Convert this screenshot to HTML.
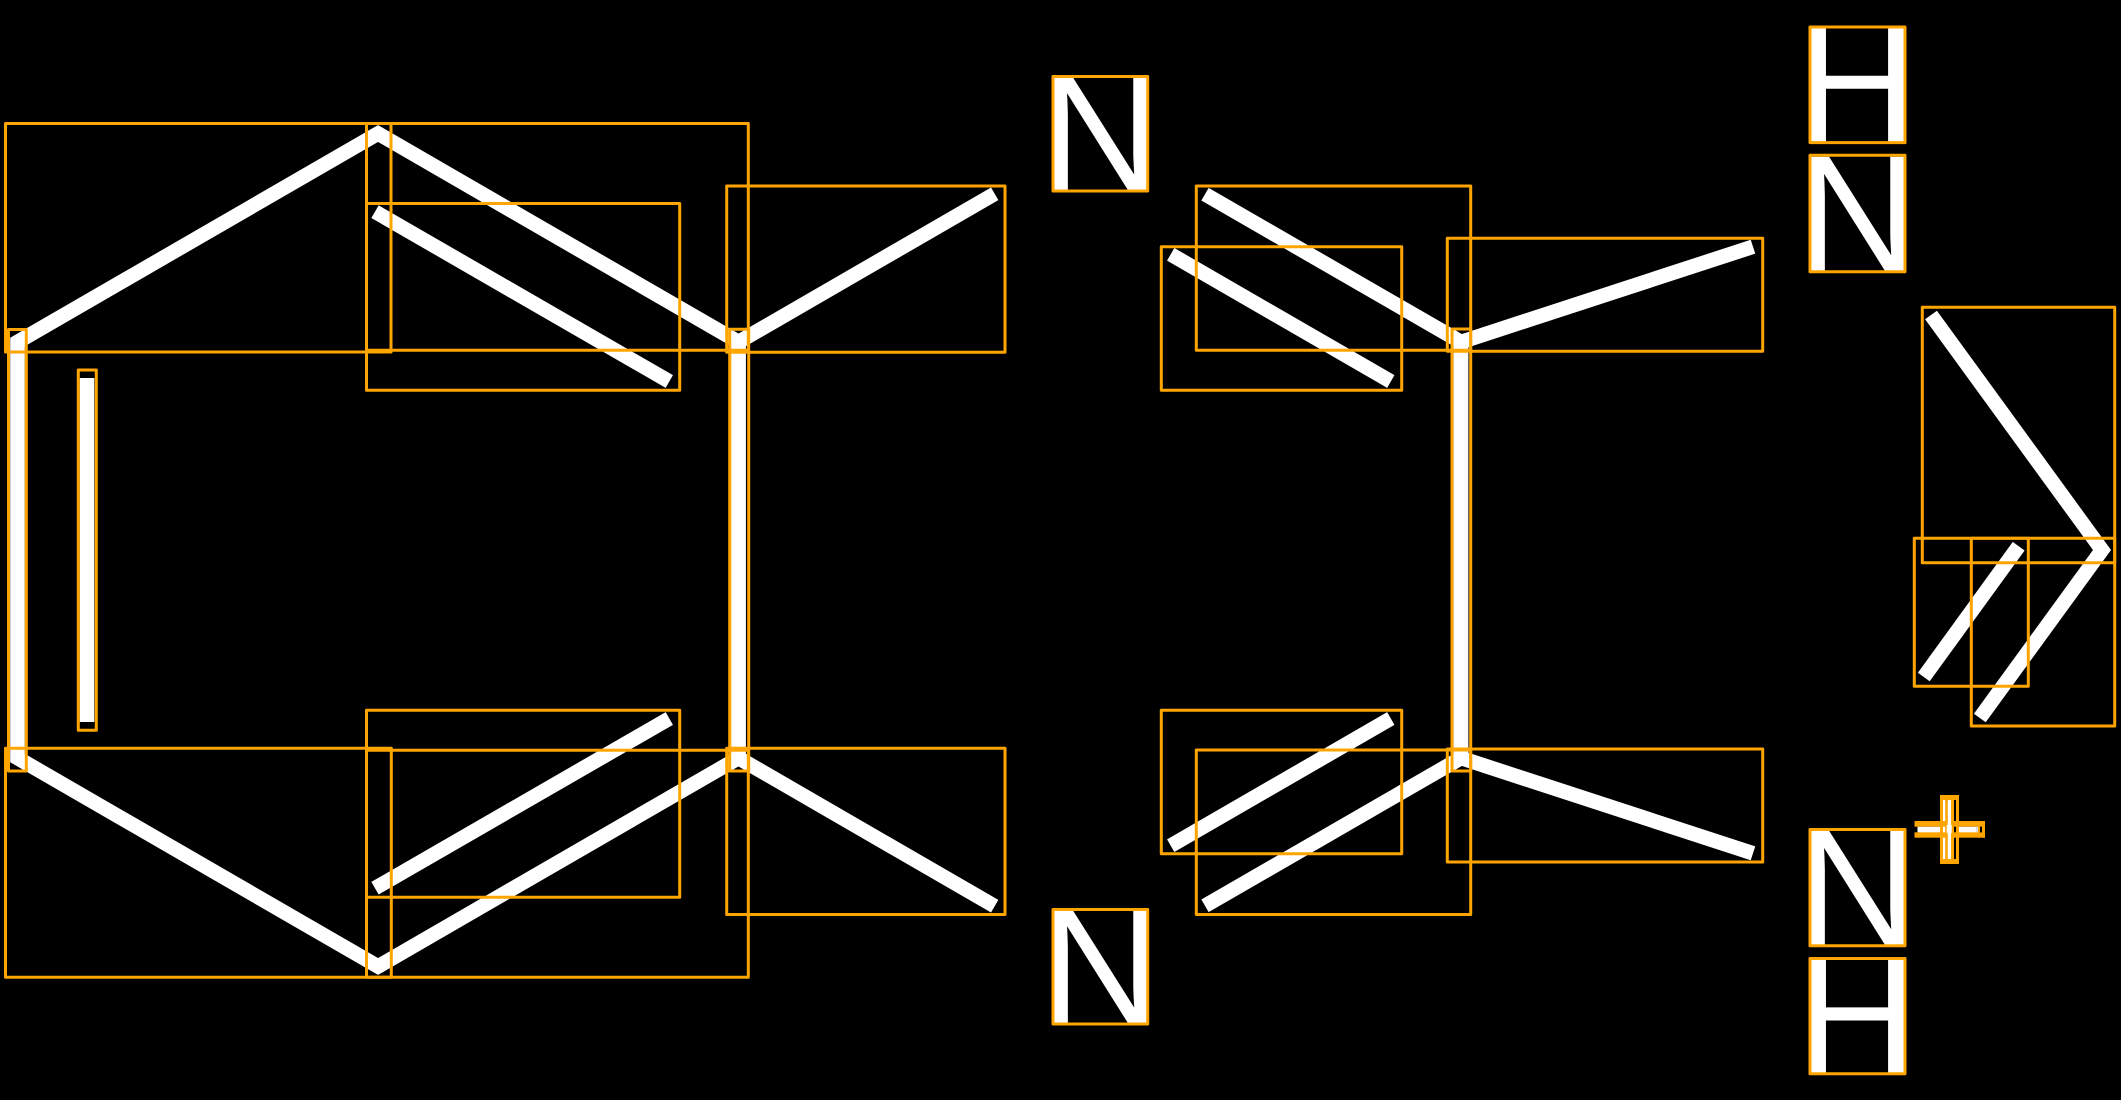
<!DOCTYPE html>
<html>
<head>
<meta charset="utf-8">
<style>
html,body{margin:0;padding:0;background:#000;width:2121px;height:1100px;overflow:hidden}
svg{display:block}
text{font-family:"Liberation Sans",sans-serif;fill:#fff}
</style>
</head>
<body>
<svg width="2121" height="1100" viewBox="0 0 2121 1100" xmlns="http://www.w3.org/2000/svg">
<rect width="2121" height="1100" fill="#000"/>
<g fill="none" stroke="#fff" stroke-width="14.6" stroke-linejoin="miter" stroke-miterlimit="10">
<polygon points="17.5,342 378,133.5 738.5,342 738.5,758 378,966.5 17.5,758"/>
<polyline points="994.7,193.8 738.5,342 738.5,758 994.7,906.2"/>
<line x1="375" y1="211.7" x2="669.3" y2="381.5"/>
<line x1="375" y1="888.2" x2="669.3" y2="718.5"/>
<line x1="87" y1="378" x2="87" y2="722"/>
<polyline points="1205,194.2 1461,342 1461,758 1205,905.8"/>
<polyline points="1753,246.7 1461,342 1461,758 1753,853.3"/>
<line x1="1170.7" y1="254.3" x2="1390.8" y2="381.5"/>
<line x1="1170.7" y1="845.7" x2="1390.8" y2="718.5"/>
<polyline points="1931,315 2102,550 1979.8,718"/>
<line x1="2018.7" y1="546.2" x2="1923.8" y2="677"/>
</g>
<g font-size="167">
<text x="1040.3" y="191">N</text>
<text x="1040.3" y="1024">N</text>
<text x="1796.7" y="142">H</text>
<text x="1797.3" y="271.7">N</text>
<text x="1797.3" y="945.7">N</text>
<text x="1796.7" y="1073.7">H</text>
</g>
<text x="1913.4" y="872" font-size="122">+</text>
<g fill="#fff">
<rect x="1917.5" y="826.7" width="58.5" height="5.6"/>
<rect x="1943" y="800" width="2.4" height="59"/>
<rect x="1947.7" y="800" width="3.5" height="59"/>
<rect x="1946.7" y="825" width="5" height="8"/>
</g>
<rect x="1953.8" y="800" width="2.4" height="59" fill="#000"/>
<g fill="none" stroke="#FFA500" stroke-width="3" stroke-linejoin="round">
<rect x="5.5" y="123.5" width="385.5" height="228.5"/>
<rect x="366.5" y="123.5" width="381.8" height="226.8"/>
<rect x="366.5" y="203.5" width="313.2" height="186.8"/>
<rect x="8.5" y="329.5" width="17.8" height="441.5"/>
<rect x="78.3" y="370" width="18" height="360.3"/>
<rect x="729.7" y="329.3" width="19" height="441.7"/>
<rect x="726.7" y="186" width="278.3" height="166.3"/>
<rect x="5.5" y="748.3" width="385.8" height="228.9"/>
<rect x="366.5" y="750.3" width="381.8" height="226.9"/>
<rect x="366.5" y="710.3" width="313.2" height="187"/>
<rect x="726.7" y="748.3" width="278.3" height="166.2"/>
<rect x="1053" y="76.5" width="94.7" height="114.5"/>
<rect x="1053" y="909.5" width="94.7" height="114.5"/>
<rect x="1196.3" y="186" width="274.4" height="164.3"/>
<rect x="1161.3" y="246.7" width="240.4" height="143.6"/>
<rect x="1447.3" y="238.3" width="315.4" height="112.9"/>
<rect x="1452" y="329" width="18.7" height="442"/>
<rect x="1161.3" y="710.3" width="240.4" height="143.4"/>
<rect x="1196.3" y="750" width="274.4" height="164.5"/>
<rect x="1447.3" y="749" width="315.4" height="113"/>
<rect x="1810" y="27" width="95" height="115.6"/>
<rect x="1810" y="155.2" width="95" height="116.5"/>
<rect x="1810" y="829.5" width="95" height="116.2"/>
<rect x="1810" y="958.5" width="95" height="115.2"/>
<rect x="1922.3" y="307.3" width="192.4" height="255.4"/>
<rect x="1914.3" y="538.3" width="114" height="148"/>
<rect x="1971.3" y="538.3" width="143.4" height="187.7"/>
</g>
<g fill="#FFA500">
<rect x="1940" y="795" width="3" height="69"/>
<rect x="1956" y="795" width="3" height="69"/>
<rect x="1945.2" y="798" width="2.6" height="63"/>
<rect x="1951" y="798" width="3" height="63"/>
<rect x="1940" y="795" width="19" height="5"/>
<rect x="1940" y="859" width="19" height="5"/>
<rect x="1914.5" y="821" width="32.2" height="5.7"/>
<rect x="1914.5" y="832.3" width="32.2" height="5.4"/>
<rect x="1951.7" y="821" width="33.3" height="5.7"/>
<rect x="1951.7" y="832.3" width="33.3" height="5.4"/>
<rect x="1982" y="821" width="3" height="16.7"/>
<rect x="1978" y="821" width="2" height="16.7"/>
</g>
<rect x="1946.7" y="825" width="5" height="8" fill="#fff"/>
<rect x="1976" y="826.7" width="2" height="5.6" fill="#ddd"/>
<rect x="1980" y="826.7" width="2" height="5.6" fill="#000"/>
</svg>
</body>
</html>
